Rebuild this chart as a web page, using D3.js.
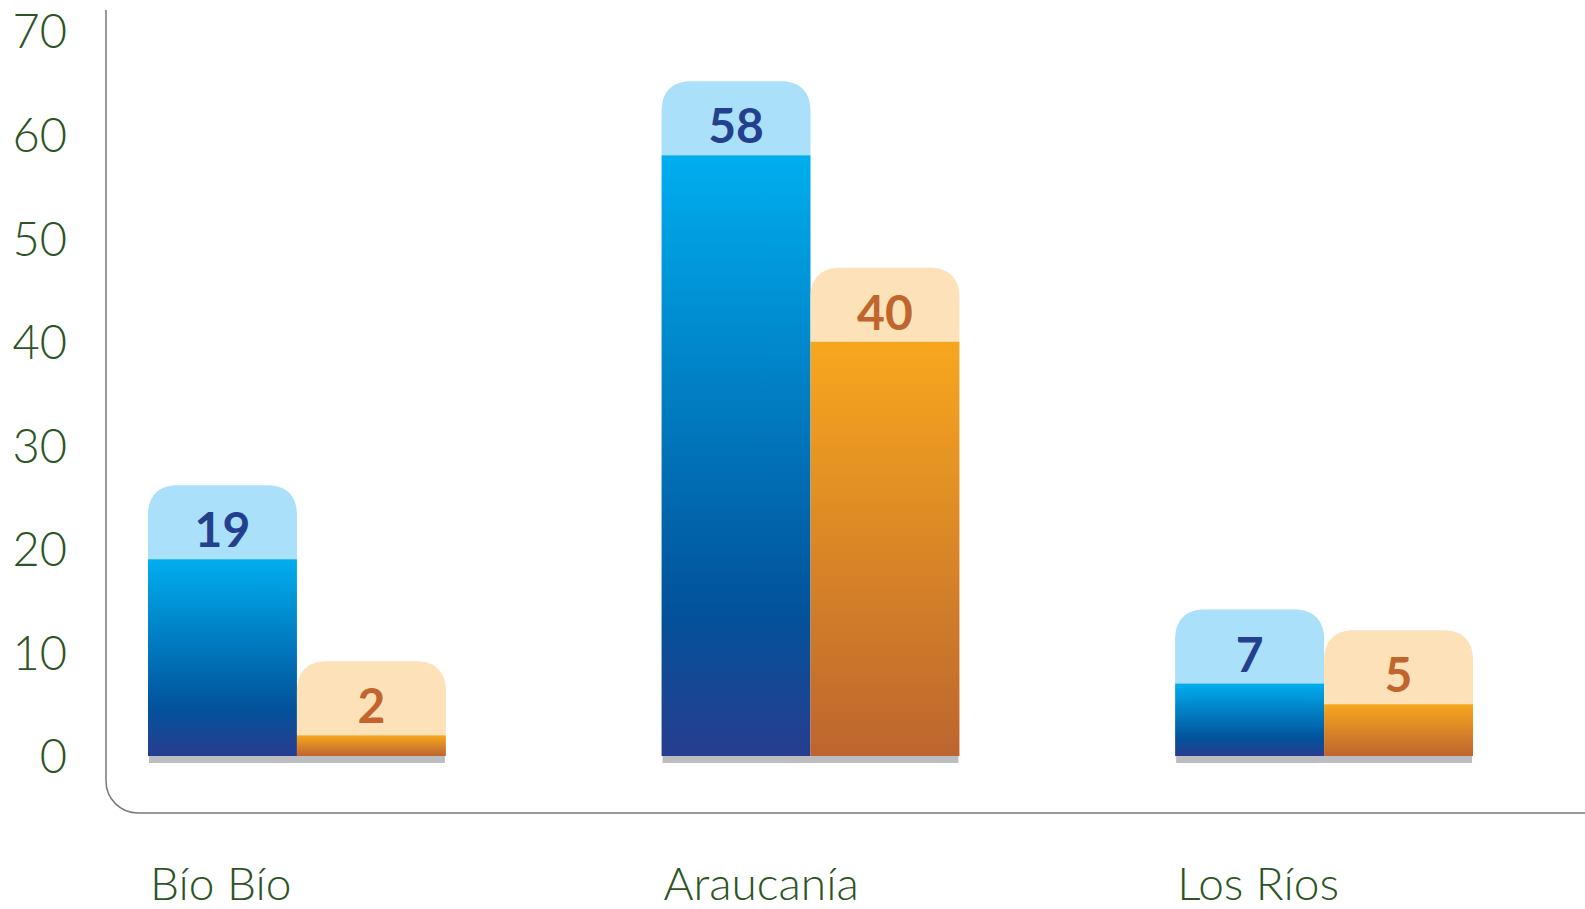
<!DOCTYPE html>
<html><head><meta charset="utf-8">
<script src="https://cdn.jsdelivr.net/npm/d3@7"></script>
<style>html,body{margin:0;padding:0;background:#fff;overflow:hidden}</style>
</head><body>
<svg id="chart" width="1585" height="909"></svg>
<script>
const categories = ["Bío Bío", "Araucanía", "Los Ríos"];
const seriesBlue = [19, 58, 7];
const seriesOrange = [2, 40, 5];
const yTicks = [0, 10, 20, 30, 40, 50, 60, 70];

const svg = d3.select("#chart");
const W = 1585, H = 909;
const baseY = 756;
const y = d3.scaleLinear().domain([0, 70]).range([baseY, 31]);
const x0 = d3.scaleBand().domain(categories).range([148, 1473]).paddingInner(0.42).paddingOuter(0);
const x1 = d3.scaleBand().domain(["blue", "orange"]).range([0, x0.bandwidth()]);

const defs = svg.append("defs");
const gb = defs.append("linearGradient").attr("id", "gBlue").attr("x1", 0).attr("y1", 0).attr("x2", 0).attr("y2", 1);
gb.append("stop").attr("offset", 0).attr("stop-color", "#00aeef");
gb.append("stop").attr("offset", 0.76).attr("stop-color", "#02529b");
gb.append("stop").attr("offset", 1).attr("stop-color", "#283d8f");
const go = defs.append("linearGradient").attr("id", "gOrange").attr("x1", 0).attr("y1", 0).attr("x2", 0).attr("y2", 1);
go.append("stop").attr("offset", 0).attr("stop-color", "#f7a71e");
go.append("stop").attr("offset", 1).attr("stop-color", "#bd652f");

// frame
const fx = 106, r = 32, fy = 813;
svg.append("path")
  .attr("d", `M${fx},10 L${fx},${fy - r} A${r},${r} 0 0 0 ${fx + r},${fy} L${W},${fy}`)
  .attr("fill", "none").attr("stroke", "#7a7a7a").attr("stroke-width", 1.5);

// y tick labels
const yAxis = d3.axisLeft(y).tickValues(yTicks).tickSize(0).tickPadding(0);
const ga = svg.append("g").attr("transform", "translate(67,0)").call(yAxis);
ga.select(".domain").remove();
ga.selectAll("text")
  .attr("font-family", "Lato, 'Open Sans', sans-serif")
  .attr("font-size", 47).attr("font-weight", 300)
  .attr("fill", "#2d5424").attr("dy", "0.36em");

const data = categories.map((c, i) => ({cat: c, vals: [
  {key: "blue", v: seriesBlue[i]}, {key: "orange", v: seriesOrange[i]}]}));

const boxH = 74, rad = 30;
const groups = svg.selectAll("g.grp").data(data).enter().append("g")
  .attr("class", "grp").attr("transform", d => `translate(${x0(d.cat)},0)`);

// grey base
groups.append("rect")
  .attr("x", 1).attr("y", baseY).attr("width", x0.bandwidth() - 2).attr("height", 7)
  .attr("fill", "#bcbdc1");

const bars = groups.selectAll("g.bar").data(d => d.vals).enter().append("g").attr("class", "bar");

function topRounded(xx, yy, w, h, rr) {
  return `M${xx},${yy + h} L${xx},${yy + rr} C${xx},${yy + rr * 0.35} ${xx + rr * 0.35},${yy} ${xx + rr},${yy} L${xx + w - rr},${yy} C${xx + w - rr * 0.35},${yy} ${xx + w},${yy + rr * 0.35} ${xx + w},${yy + rr} L${xx + w},${yy + h} Z`;
}
bars.append("path")
  .attr("d", d => topRounded(x1(d.key), y(d.v) - boxH, x1.bandwidth(), boxH, rad))
  .attr("fill", d => d.key === "blue" ? "#aae0fa" : "#fde1b8");
bars.append("rect")
  .attr("x", d => x1(d.key)).attr("y", d => y(d.v))
  .attr("width", x1.bandwidth()).attr("height", d => baseY - y(d.v))
  .attr("fill", d => d.key === "blue" ? "url(#gBlue)" : "url(#gOrange)");
bars.append("text")
  .attr("x", d => x1(d.key) + x1.bandwidth() / 2)
  .attr("y", d => y(d.v) - 12)
  .attr("text-anchor", "middle")
  .attr("font-family", "Lato, 'Open Sans', sans-serif")
  .attr("font-size", 48).attr("font-weight", 700)
  .attr("fill", d => d.key === "blue" ? "#253f8f" : "#c0652d")
  .text(d => d.v);

// category labels
svg.selectAll("text.cat").data(categories).enter().append("text")
  .attr("class", "cat")
  .attr("x", d => x0(d) + 2).attr("y", 900)
  .attr("font-family", "Lato, 'Open Sans', sans-serif")
  .attr("font-size", 46).attr("font-weight", 300)
  .attr("fill", "#2d5424")
  .text(d => d);
</script>
</body></html>
